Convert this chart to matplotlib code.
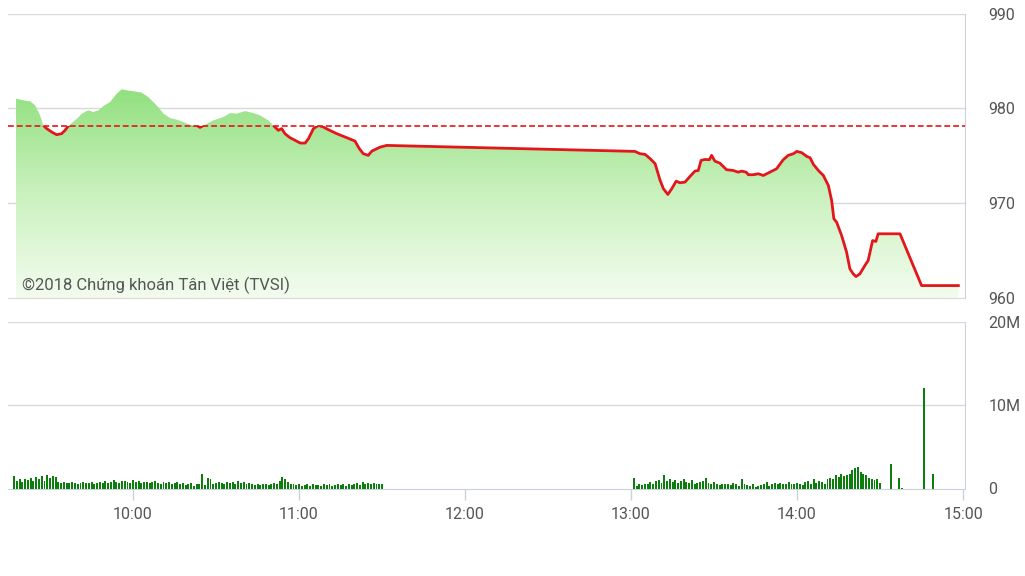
import matplotlib.pyplot as plt
import numpy as np
from matplotlib.patches import Rectangle
from matplotlib.colors import LinearSegmentedColormap

plt.rcParams['font.family'] = ['Roboto', 'DejaVu Sans']

# price path, time as minutes after midnight
price_time = [557.7, 560.4, 562.8, 564.6, 566.4, 567.6, 568.8, 570.6, 572.4, 574.2,
              575.4, 576.6, 579.7, 581.5, 583.8, 585.6, 587.5, 589.3, 591.7, 594.1,
              595.9, 597.7, 600.1, 603.1, 605.5, 607.3, 609.1, 611.0, 613.4, 615.8,
              618.2, 620.6, 623.0, 624.2, 626.0, 629.0, 632.6, 635.1, 637.5, 640.5,
              643.5, 645.9, 648.9, 650.7, 652.5, 653.7, 654.9, 656.7, 658.6, 660.4,
              662.2, 663.4, 665.2, 667.0, 668.8, 670.6, 673.6, 677.2, 680.2, 681.8,
              683.2, 685.0, 686.3, 689.3, 691.7,
              781.4, 783.2, 785.1, 786.9, 788.7, 790.5, 791.7, 793.3, 794.7, 796.3,
              797.7, 799.5, 801.3, 803.1, 804.3, 805.3, 806.7, 808.3, 809.1, 810.3,
              812.1, 814.5, 816.9, 818.7, 820.0, 821.6, 822.4, 824.2, 826.0, 827.8,
              830.2, 832.6, 835.0, 836.8, 838.7, 839.9, 841.7, 843.5, 844.7, 845.9,
              847.7, 849.5, 851.3, 852.5, 853.3, 854.3, 856.1, 857.9, 859.1, 860.3,
              861.3, 862.7, 864.5, 865.7, 867.3, 868.5, 869.3, 877.2, 885.0, 898.3]
price = [981.02, 980.84, 980.74, 980.32, 979.26, 978.20, 977.86, 977.50, 977.22, 977.33,
         977.68, 978.13, 978.91, 979.44, 979.79, 979.61, 979.79, 980.24, 980.67, 981.55,
         982.01, 981.90, 981.80, 981.66, 981.19, 980.67, 980.14, 979.44, 978.98, 978.81,
         978.55, 978.28, 978.20, 977.99, 978.28, 978.73, 979.08, 979.50, 979.44, 979.71,
         979.50, 979.26, 978.73, 978.20, 977.68, 977.86, 977.33, 976.91, 976.62, 976.34,
         976.34, 976.80, 977.86, 978.20, 978.03, 977.75, 977.33, 976.91, 976.55, 975.74,
         975.22, 975.04, 975.49, 975.91, 976.09,
         975.46, 975.22, 975.14, 974.69, 974.16, 972.40, 971.52, 970.92, 971.52, 972.32,
         972.15, 972.22, 972.82, 973.38, 973.45, 974.51, 974.61, 974.58, 975.04, 974.43,
         974.22, 973.53, 973.45, 973.27, 973.38, 973.27, 973.00, 973.00, 973.10, 972.92,
         973.27, 973.63, 974.58, 975.04, 975.22, 975.46, 975.32, 974.93, 974.79, 974.09,
         973.45, 972.92, 971.87, 970.28, 968.35, 967.99, 966.59, 964.83, 963.07, 962.54,
         962.26, 962.54, 963.42, 963.95, 966.06, 965.96, 966.77, 966.77, 961.31, 961.31]
ref_price = 978.13

# volume (millions), one bar per minute
vol_am_start = 557  # 9:17
vol_am = [1.5, 0.9, 1.1, 0.8, 1.2, 1.0, 1.3, 0.9, 1.4, 1.1, 1.5, 0.9, 1.6, 1.3, 1.5, 1.4,
          0.8, 0.7, 0.8, 0.7, 0.7, 0.8, 0.7, 0.6, 0.7, 0.8, 0.7, 0.7, 0.8, 0.6, 0.7, 0.8,
          0.7, 0.9, 0.7, 0.8, 1.0, 0.8, 0.7, 0.9,
          0.9, 0.8, 0.7, 1.0, 0.8, 0.9, 0.7, 0.8, 0.8, 0.7, 0.8, 0.9, 0.7, 0.6, 0.8, 0.7,
          0.8, 0.6, 0.7, 0.8, 0.5, 0.7, 0.4, 0.6, 0.7, 0.3, 0.5,
          0.5, 1.7, 0.4, 1.3, 1.1, 0.6,
          0.7, 0.8, 0.7, 0.6, 0.8, 0.7, 0.8, 0.6, 0.9, 0.7, 0.8, 0.6, 0.7, 0.5, 0.4, 0.6,
          0.4, 0.5, 0.5, 0.4, 0.6, 0.7, 0.5,
          0.9, 1.4, 1.1, 0.8,
          0.6, 0.5, 0.4, 0.5, 0.3, 0.4, 0.5, 0.3, 0.5, 0.4, 0.4, 0.3, 0.5, 0.4, 0.6, 0.3,
          0.4, 0.5, 0.4, 0.5, 0.3, 0.6, 0.4, 0.5, 0.7, 0.4, 0.8, 0.6, 0.7, 0.5, 0.7, 0.6,
          0.5, 0.6]
vol_pm_start = 781  # 13:01
vol_pm = [1.3, 0.3, 0.5, 0.4, 0.6, 0.5, 0.8, 0.6, 0.9, 1.0, 0.7, 1.6,
          0.9, 1.1, 0.8, 1.0, 0.7, 0.9, 1.2, 0.8, 0.7, 1.0, 0.6, 0.7,
          0.8, 0.9, 1.3, 0.7, 0.6, 0.8, 0.5, 0.4, 0.6, 0.5, 0.6, 0.4, 0.7, 0.5,
          0.3, 1.1, 0.5, 0.4, 0.3, 0.5, 0.2, 0.3, 0.4, 0.5, 0.8, 0.3, 0.6, 0.7, 0.6,
          0.7, 0.6, 0.5, 0.8, 0.6, 0.5, 0.7, 0.6, 0.4, 0.8, 0.9, 0.5, 1.1, 0.7,
          0.9, 0.8, 0.6, 1.2, 1.3, 1.2, 1.6, 1.4, 1.7, 1.5, 1.6, 1.8, 2.2, 2.5, 2.6,
          2.0, 1.8, 1.6, 1.3, 1.2, 1.0, 1.1, 0.7]
vol_late_time = [874, 877, 878, 886, 889]
vol_late = [2.9, 1.3, 0.1, 12.1, 1.7]

tick_times = [600, 660, 720, 780, 840, 900]
tick_labels = ['10:00', '11:00', '12:00', '13:00', '14:00', '15:00']

x_left, x_right = 554.8, 900.7
grid_c = '#d9d9d9'
edge_c = '#c9d3df'
text_c = '#555555'

fig = plt.figure(figsize=(10.25, 5.76), dpi=100)
ax = fig.add_axes([8 / 1025, 1 - 298 / 576, 957 / 1025, 284.5 / 576])
axv = fig.add_axes([8 / 1025, 1 - 488.5 / 576, 957 / 1025, 166.5 / 576])

# price panel: gradient fill under the line
pt = np.array(price_time)
pp = np.array(price)
fill = ax.fill_between(pt, pp, 960, color='none', lw=0)
grad = np.linspace(0, 1, 256).reshape(-1, 1)
cmap = LinearSegmentedColormap.from_list('g', ['#f3fcef', '#c9f1bd', '#8fdf7c'])
img = ax.imshow(grad, extent=[x_left, x_right, 960, 982.5], origin='lower',
                aspect='auto', cmap=cmap, zorder=1)
img.set_clip_path(fill.get_paths()[0], transform=ax.transData)

# red line only where the index is under the reference
red_line, = ax.plot(pt, pp, color='#e3161b', lw=2.0, zorder=4, solid_joinstyle='round')
red_line.set_clip_path(Rectangle((x_left, 950), x_right - x_left, ref_price - 950,
                                 transform=ax.transData))
ax.axhline(ref_price, color='#e3161b', lw=1.2, ls=(0, (3.5, 1.8)), zorder=5)

ax.set_xlim(x_left, x_right)
ax.set_ylim(960, 990)
ax.set_yticks([960, 970, 980, 990])
ax.yaxis.tick_right()
ax.tick_params(axis='y', length=0, pad=17, labelsize=11.5, labelcolor=text_c)
ax.set_yticklabels(['960', '970', '980', '990'], ha='left')
ax.set_xticks([])
for y in [970, 980, 990]:
    ax.axhline(y, color=grid_c, lw=1.0, zorder=0.5)
for s in ['top', 'left']:
    ax.spines[s].set_visible(False)
ax.spines['bottom'].set_color(grid_c)
ax.spines['right'].set_color(edge_c)
ax.text(x_left + 5.2, 961.3, '©2018 Chứng khoán Tân Việt (TVSI)', fontsize=12,
        color=text_c, va='center', ha='left', zorder=6)

# volume panel
am_t = vol_am_start + np.arange(len(vol_am))
pm_t = vol_pm_start + np.arange(len(vol_pm))
bar_c = '#0d7d0d'
axv.bar(am_t, vol_am, width=0.7, color=bar_c, zorder=3)
axv.bar(pm_t, vol_pm, width=0.7, color=bar_c, zorder=3)
axv.bar(vol_late_time, vol_late, width=0.7, color=bar_c, zorder=3)
axv.set_xlim(x_left, x_right)
axv.set_ylim(0, 20)
axv.set_yticks([0, 10, 20])
axv.set_yticklabels(['0', '10M', '20M'], ha='left')
axv.yaxis.tick_right()
axv.tick_params(axis='y', length=0, pad=17, labelsize=11.5, labelcolor=text_c)
axv.set_xticks(tick_times)
axv.set_xticklabels(tick_labels)
axv.tick_params(axis='x', length=8, width=1, color=edge_c, pad=5,
                labelsize=11.5, labelcolor=text_c)
axv.axhline(10, color=grid_c, lw=1.0, zorder=0.5)
axv.axhline(20, color=grid_c, lw=1.0, zorder=0.5)
for s in ['top', 'left']:
    axv.spines[s].set_visible(False)
axv.spines['bottom'].set_color(edge_c)
axv.spines['right'].set_color(edge_c)

fig.savefig('out.png', dpi=100)
